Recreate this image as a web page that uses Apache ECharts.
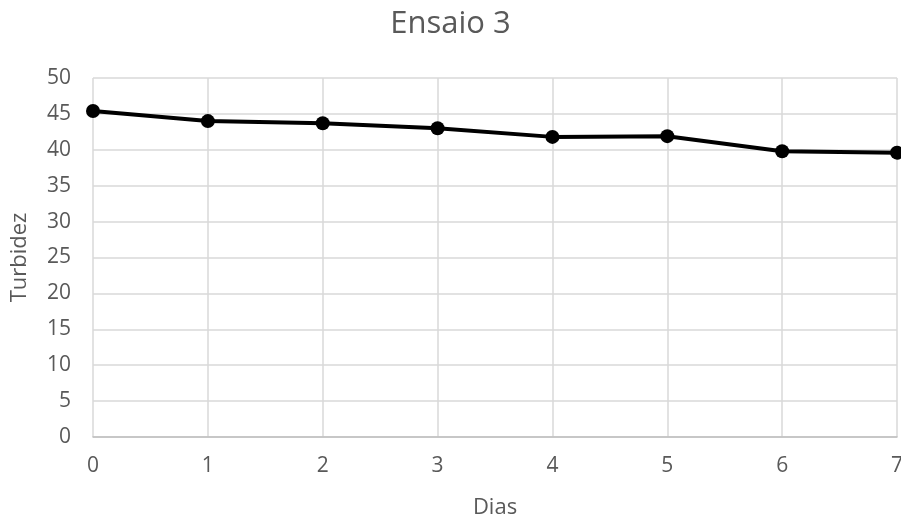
<!DOCTYPE html>
<html>
<head>
<meta charset="utf-8">
<script src="https://cdn.jsdelivr.net/npm/echarts@6/dist/echarts.min.js"></script>
<style>
  html, body { margin: 0; padding: 0; background: #fff; }
  #chart { width: 901px; height: 520px; }
</style>
</head>
<body>
<div id="chart"></div>
<script>
// Turbidity readings per day, trial 3
const days = [0, 1, 2, 3, 4, 5, 6, 7];
const turbidez = [45.4, 44.0, 43.7, 43.0, 41.8, 41.9, 39.8, 39.6];
const yTicks = { min: 0, max: 50, step: 5 };
const xTicks = { min: 0, max: 7, step: 1 };

const chart = echarts.init(document.getElementById('chart'), null, { renderer: 'canvas' });
const font = '"Open Sans", "Noto Sans", sans-serif';
const textGrey = '#595959';

chart.setOption({
  animation: false,
  backgroundColor: '#ffffff',
  title: {
    text: 'Ensaio 3',
    left: 'center',
    top: 4,
    textStyle: { fontFamily: font, fontSize: 31, fontWeight: 'normal', color: textGrey }
  },
  grid: {
    left: 93, right: 4, top: 78, bottom: 83,
    containLabel: false,
    outerBoundsMode: 'none'
  },
  xAxis: {
    type: 'value',
    min: xTicks.min, max: xTicks.max, interval: xTicks.step,
    name: 'Dias',
    nameLocation: 'middle',
    nameGap: 60,
    nameTextStyle: { fontFamily: font, fontSize: 22, color: textGrey },
    axisLine: { show: true, lineStyle: { color: '#bfbfbf', width: 1.5 } },
    axisTick: { show: false },
    axisLabel: { fontFamily: font, fontSize: 21, color: textGrey, margin: 19 },
    splitLine: { show: true, lineStyle: { color: '#d9d9d9', width: 1.5 } }
  },
  yAxis: {
    type: 'value',
    min: yTicks.min, max: yTicks.max, interval: yTicks.step,
    name: 'Turbidez',
    nameLocation: 'middle',
    nameGap: 62,
    nameRotate: 90,
    nameTextStyle: { fontFamily: font, fontSize: 22, color: textGrey },
    axisLine: { show: false },
    axisTick: { show: false },
    axisLabel: { fontFamily: font, fontSize: 21, color: textGrey, margin: 22 },
    splitLine: { show: true, lineStyle: { color: '#d9d9d9', width: 1.5 } }
  },
  series: [{
    type: 'line',
    data: days.map((d, i) => [d, turbidez[i]]),
    symbol: 'circle',
    symbolSize: 14,
    lineStyle: { color: '#000000', width: 4 },
    itemStyle: { color: '#000000' },
    clip: false,
    z: 5
  }]
});
</script>
</body>
</html>
